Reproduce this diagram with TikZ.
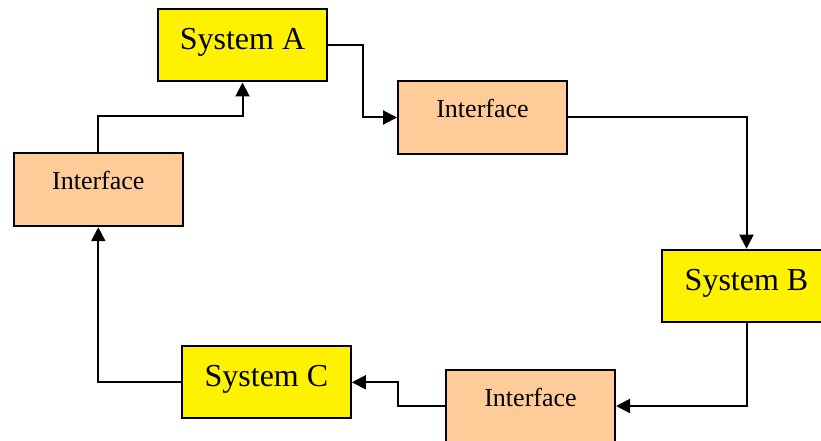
\documentclass[tikz,border=0pt]{standalone}
\usepackage{fontspec}
\setmainfont{Liberation Serif}
\usetikzlibrary{arrows.meta}
\definecolor{peach}{HTML}{FFCC99}
\tikzset{
  sysbox/.style={draw=black, line width=2pt, fill=yellow, minimum width=169pt, minimum height=72pt,
    inner sep=0pt, font=\fontsize{32}{36}\selectfont, text height=14pt, text depth=5pt},
  ifbox/.style={draw=black, line width=2pt, fill=peach, minimum width=169pt, minimum height=73pt,
    inner sep=0pt, font=\fontsize{26}{30}\selectfont, text height=9pt, text depth=9pt},
  arr/.style={line width=2pt, -{Triangle[length=14pt,width=14pt]}}
}
\begin{document}
\begin{tikzpicture}[x=1pt, y=-1pt]
\useasboundingbox (0,0) rectangle (821,441);
\node[sysbox] (A) at (242.5,45.5) {System A};
\node[ifbox] (I1) at (482.5,117.5) {Interface};
\node[sysbox] (B) at (746.5,285.7) {System B};
\node[ifbox] (I3) at (530.5,406) {Interface};
\node[sysbox] (C) at (266.4,382.3) {System C};
\node[ifbox] (I2) at (98.3,189.7) {Interface};
\draw[arr] (A.east) -- ++(35,0) |- (I1.west);
\draw[arr] (I1.east) -| (B.north);
\draw[arr] (B.south) |- (I3.east);
\draw[arr] (I3.west) -- ++(-47,0) |- (C.east);
\draw[arr] (C.west) -| (I2.south);
\draw[arr] (I2.north) -- ++(0,-36.5) -| (A.south);
\end{tikzpicture}
\end{document}
